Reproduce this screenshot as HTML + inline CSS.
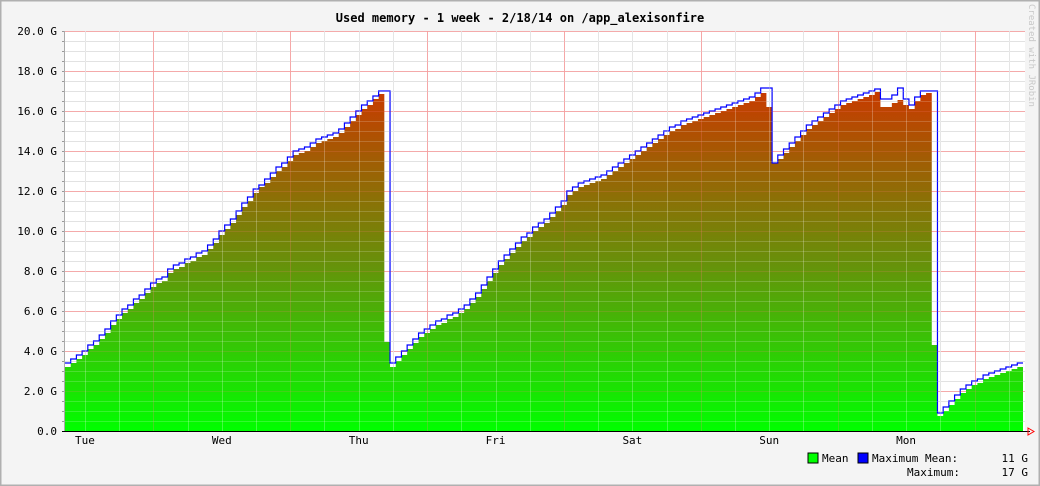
<!DOCTYPE html>
<html><head><meta charset="utf-8"><style>
html,body{margin:0;padding:0;background:#f4f4f4;}
#wrap{position:relative;width:1040px;height:486px;overflow:hidden;}
svg text{font-family:"DejaVu Sans Mono","Liberation Mono",monospace;}
</style></head><body>
<div id="wrap">
<svg id="chart" width="1040" height="486" xmlns="http://www.w3.org/2000/svg">
<defs>
<linearGradient id="fillGrad" gradientUnits="userSpaceOnUse" x1="0" y1="431" x2="0" y2="94">
<stop offset="0" stop-color="#00ff00"/>
<stop offset="0.5" stop-color="#68900a"/>
<stop offset="1" stop-color="#c63c00"/>
</linearGradient>
</defs>
<rect x="0.5" y="0.5" width="1039" height="485" fill="#f4f4f4" stroke="#b0b0b0" stroke-width="2"/>
<rect x="65" y="31" width="960" height="400" fill="#ffffff"/>
<g id="gridBack"></g>
<g id="series"></g>
<g id="gridFront"></g>
<g id="axes"></g>
<text x="520" y="22" text-anchor="middle" font-size="12" font-weight="bold" fill="#000">Used memory - 1 week - 2/18/14 on /app_alexisonfire</text>
<text transform="translate(1029,4) rotate(90)" font-size="9" fill="#c8c8c8">Created with JRobin</text>
<g>
<rect x="808" y="453" width="10" height="10" fill="#00ff00" stroke="#000"/>
<text x="822" y="462" font-size="11">Mean</text>
<rect x="858" y="453" width="10" height="10" fill="#0000ff" stroke="#000"/>
<text x="872" y="462" font-size="11">Maximum</text>
<text x="925" y="462" font-size="11">Mean:</text>
<text x="1028" y="462" font-size="11" text-anchor="end">11 G</text>
<text x="907" y="476" font-size="11">Maximum:</text>
<text x="1028" y="476" font-size="11" text-anchor="end">17 G</text>
</g>
</svg>
</div>
<script>
const meanValues = [3.2,3.4,3.6,3.8,4.1,4.3,4.6,4.9,5.3,5.6,5.9,6.1,6.4,6.6,6.9,7.2,7.4,7.5,7.9,8.1,8.2,8.4,8.5,8.7,8.8,9.1,9.4,9.8,10.1,10.4,10.8,11.2,11.5,11.9,12.2,12.4,12.7,13.0,13.2,13.5,13.8,13.9,14.0,14.2,14.4,14.5,14.6,14.7,14.9,15.2,15.5,15.8,16.1,16.3,16.6,16.85,4.45,
3.2,3.5,3.8,4.1,4.4,4.7,4.9,5.1,5.3,5.4,5.6,5.7,5.9,6.1,6.4,6.7,7.1,7.5,7.9,8.3,8.6,8.9,9.2,9.5,9.7,10.0,10.2,10.4,10.7,11.0,11.3,11.8,12.0,12.2,12.3,12.4,12.5,12.6,12.8,13.0,13.2,13.4,13.6,13.8,14.0,14.2,14.4,14.6,14.8,15.0,15.1,15.3,15.4,15.5,15.6,15.7,15.8,15.9,16.0,16.1,16.2,16.3,16.4,16.5,16.7,16.9,16.2,
13.4,13.6,13.9,14.2,14.5,14.8,15.1,15.3,15.5,15.7,15.9,16.1,16.3,16.4,16.5,16.6,16.7,16.8,16.95,16.2,16.2,16.4,16.55,16.3,16.1,16.5,16.8,16.9,
4.3,0.75,1.0,1.3,1.6,1.9,2.1,2.3,2.4,2.6,2.7,2.8,2.9,3.0,3.1,3.2];
const maxValues = [3.4,3.6,3.8,4.0,4.3,4.5,4.8,5.1,5.5,5.8,6.1,6.3,6.6,6.8,7.1,7.4,7.6,7.7,8.1,8.3,8.4,8.6,8.7,8.9,9.0,9.3,9.6,10.0,10.3,10.6,11.0,11.4,11.7,12.1,12.3,12.6,12.9,13.2,13.4,13.7,14.0,14.1,14.2,14.4,14.6,14.7,14.8,14.9,15.1,15.4,15.7,16.0,16.3,16.5,16.75,17.0,17.0,
3.4,3.7,4.0,4.3,4.6,4.9,5.1,5.3,5.5,5.6,5.8,5.9,6.1,6.3,6.6,6.9,7.3,7.7,8.1,8.5,8.8,9.1,9.4,9.7,9.9,10.2,10.4,10.6,10.9,11.2,11.5,12.0,12.2,12.4,12.5,12.6,12.7,12.8,13.0,13.2,13.4,13.6,13.8,14.0,14.2,14.4,14.6,14.8,15.0,15.2,15.3,15.5,15.6,15.7,15.8,15.9,16.0,16.1,16.2,16.3,16.4,16.5,16.6,16.7,16.9,17.15,17.15,
13.4,13.8,14.1,14.4,14.7,15.0,15.3,15.5,15.7,15.9,16.1,16.3,16.5,16.6,16.7,16.8,16.9,17.0,17.1,16.6,16.6,16.8,17.15,16.6,16.3,16.7,17.0,17.0,
17.0,0.9,1.2,1.5,1.8,2.1,2.3,2.5,2.6,2.8,2.9,3.0,3.1,3.2,3.3,3.4];
const yTickValues = [0,2,4,6,8,10,12,14,16,18,20];
const yTickLabels = ["0.0","2.0 G","4.0 G","6.0 G","8.0 G","10.0 G","12.0 G","14.0 G","16.0 G","18.0 G","20.0 G"];
const dayLabels = ["Tue","Wed","Thu","Fri","Sat","Sun","Mon"];

const NS="http://www.w3.org/2000/svg";
const X0=65, X1=1023, Y0=431, Y1=31, YMAX=20;
const nSteps = meanValues.length;
const stepW = (X1-X0)/nSteps;
function xScale(i){return X0 + i*stepW;}
function yScale(v){return Y0 - (v/YMAX)*(Y0-Y1);}
function mk(tag,attrs,parent){const e=document.createElementNS(NS,tag);for(const k in attrs)e.setAttribute(k,attrs[k]);parent.appendChild(e);return e;}

const gb=document.getElementById('gridBack'), gf=document.getElementById('gridFront'), sg=document.getElementById('series'), ax=document.getElementById('axes');

// horizontal grid every 0.5 G
for(let k=0;k<=40;k++){
  const v=k*0.5, y=Math.round(yScale(v))+0.5, major=(k%4===0);
  const l=mk('line',{x1:X0,x2:1025,y1:y,y2:y,stroke:major?'#f2b4b4':'#dcdcdc','stroke-width':1},gb);
  
  
  const l2=mk('line',{x1:X0,x2:1025,y1:y,y2:y,stroke:major?'#ff8080':'#ffffff','stroke-width':1,'stroke-opacity':0.18},gf);
  
  
  const t=mk('line',{x1:62,x2:65,y1:y,y2:y,stroke:'#999'},ax);
  
  
}
// vertical grid every 6h
for(let k=0;k<28;k++){
  const x=Math.round(X0 + (3.5+k*6)*stepW)+0.5, major=(k%4===2);
  const l=mk('line',{x1:x,x2:x,y1:Y1,y2:Y0,stroke:major?'#f2b4b4':'#dcdcdc','stroke-width':1},gb);
  
  
  const l2=mk('line',{x1:x,x2:x,y1:Y1,y2:Y0,stroke:major?'#ff8080':'#ffffff','stroke-width':1,'stroke-opacity':0.25},gf);
  
  
}

// mean area (step)
let d='M'+X0+','+Y0;
for(let i=0;i<nSteps;i++){d+=' L'+xScale(i)+','+yScale(meanValues[i])+' L'+xScale(i+1)+','+yScale(meanValues[i]);}
d+=' L'+xScale(nSteps)+','+Y0+' Z';
const area=mk('path',{d:d,fill:'url(#fillGrad)'},sg);



// max line (step)
let dm='';
for(let i=0;i<nSteps;i++){dm+=(i===0?'M':' L')+xScale(i)+','+yScale(maxValues[i])+' L'+xScale(i+1)+','+yScale(maxValues[i]);}
const mline=mk('path',{d:dm,fill:'none',stroke:'#0000ff','stroke-width':1.2},sg);



// y labels
yTickValues.forEach((v,i)=>{
  const t=mk('text',{x:57,y:yScale(v)+4,'text-anchor':'end','font-size':11,fill:'#000'},ax);
  t.textContent=yTickLabels[i];
  
  
});
// day labels
dayLabels.forEach((lab,i)=>{
  const t=mk('text',{x:X0+(3.5+i*24)*stepW,y:444,'text-anchor':'middle','font-size':11,fill:'#000'},ax);
  t.textContent=lab;
  
  
});
// axes
const xa=mk('line',{x1:62,x2:1030,y1:Y0+0.5,y2:Y0+0.5,stroke:'#000','stroke-width':1},ax);


const ya=mk('line',{x1:64.5,x2:64.5,y1:Y1,y2:Y0,stroke:'#aaa','stroke-width':1},ax);


const arr=mk('path',{d:'M1028,428 L1034,431.5 L1028,435 Z',fill:'none',stroke:'#ff0000','stroke-width':1},ax);


</script>
</body></html>
